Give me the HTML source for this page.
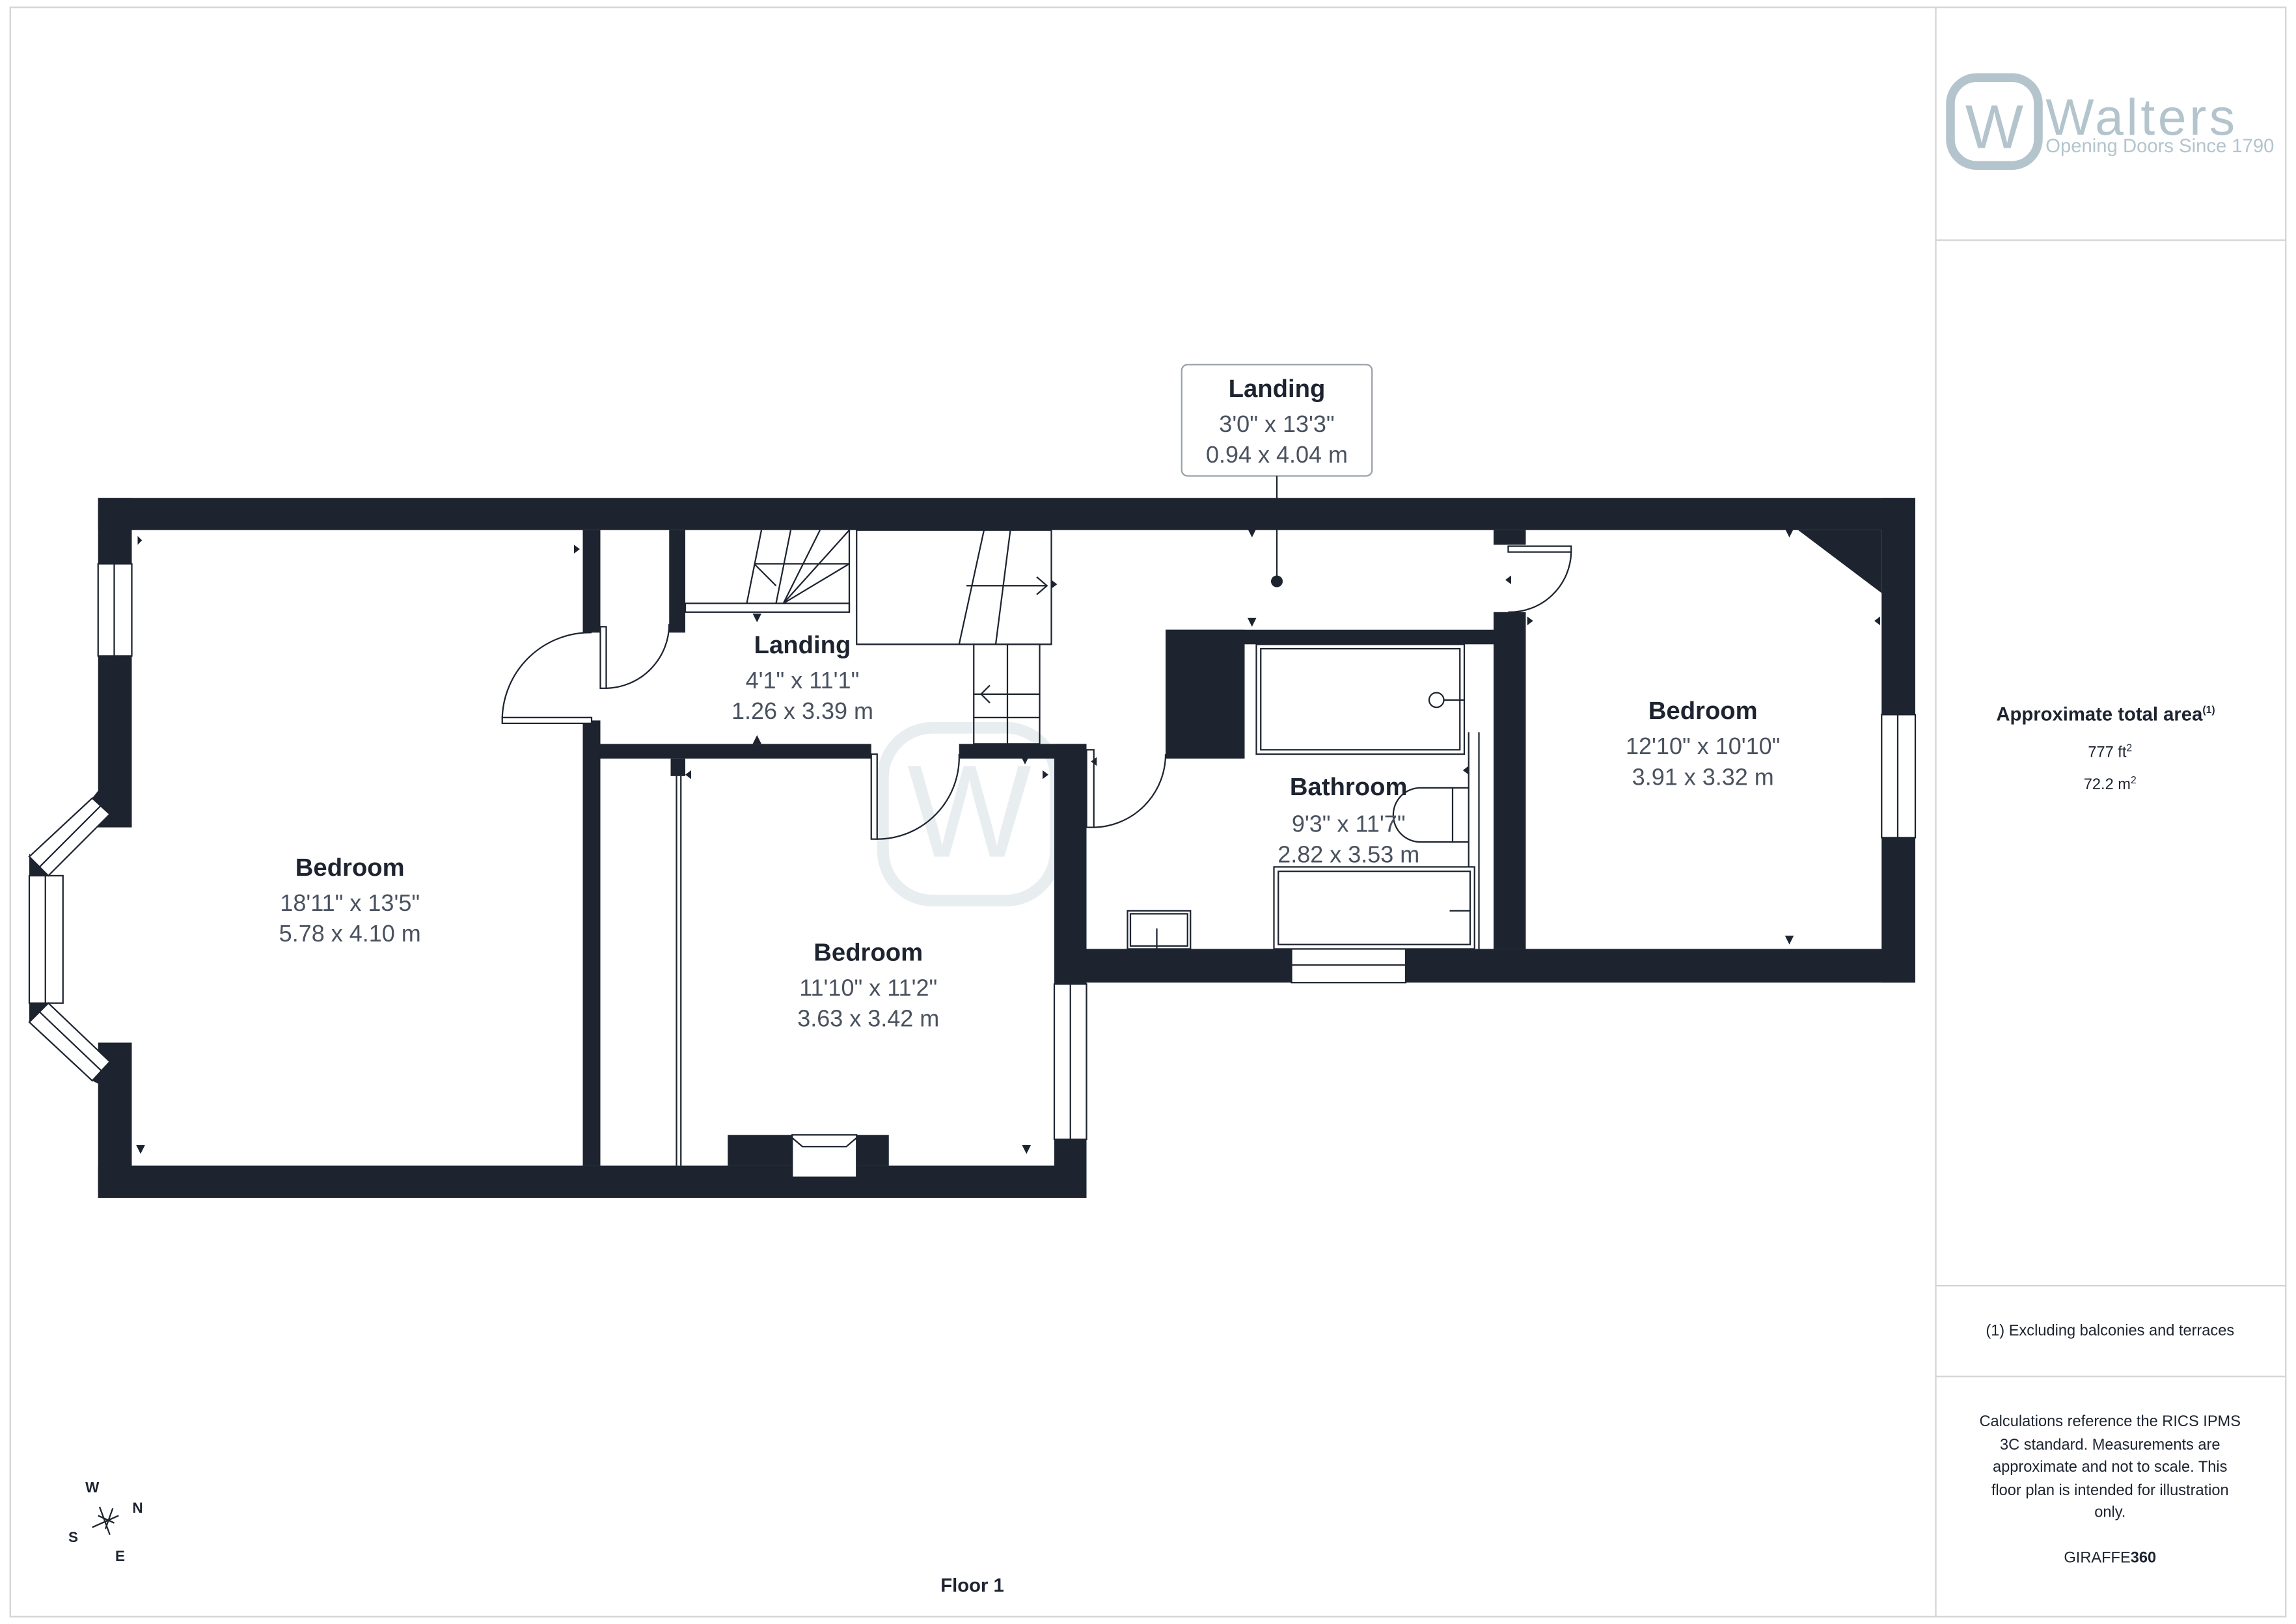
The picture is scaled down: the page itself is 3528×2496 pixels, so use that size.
<!DOCTYPE html>
<html><head><meta charset="utf-8"><style>
html,body{margin:0;padding:0;background:#fff}
svg{display:block}
text{font-family:"Liberation Sans",sans-serif}
.t{font-weight:bold;fill:#1d2430;font-size:17px;text-anchor:middle}
.d{fill:#4a5260;font-size:16px;text-anchor:middle}
.p{fill:#1d2430;font-size:10.5px;text-anchor:middle}
</style></head><body>
<svg width="3528" height="2496" viewBox="0 0 1568 1109" preserveAspectRatio="none" xmlns="http://www.w3.org/2000/svg">
<rect x="7" y="5" width="1554" height="1099" fill="none" stroke="#d4d4d4" stroke-width="1"/>
<line x1="1322" y1="5" x2="1322" y2="1104" stroke="#d4d4d4"/>
<line x1="1322" y1="164" x2="1561" y2="164" stroke="#d4d4d4"/>
<line x1="1322" y1="878" x2="1561" y2="878" stroke="#d4d4d4"/>
<line x1="1322" y1="940" x2="1561" y2="940" stroke="#d4d4d4"/>

<!-- logo -->
<rect x="1332" y="53" width="60" height="60" rx="18" fill="none" stroke="#b3c4cc" stroke-width="6"/>
<text x="1362" y="101" font-size="42" fill="#b3c4cc" text-anchor="middle">W</text>
<text x="1397" y="92" font-size="35" fill="#b3c4cc" letter-spacing="2">Walters</text>
<text x="1397" y="104" font-size="13" fill="#b3c4cc">Opening Doors Since 1790</text>

<!-- watermark -->
<rect x="603" y="497" width="118" height="118" rx="34" fill="none" stroke="#e8eef0" stroke-width="8"/>
<text x="662" y="585" font-size="90" fill="#e8eef0" text-anchor="middle">W</text>

<g fill="#1d2430">
<!-- outer walls -->
<rect x="67" y="340" width="1241" height="22"/>
<rect x="67" y="340" width="23" height="45"/>
<rect x="67" y="448" width="23" height="117"/>
<rect x="67" y="712" width="23" height="106"/>
<rect x="67" y="796" width="675" height="22"/>
<rect x="720" y="648" width="162" height="23"/>
<rect x="960" y="648" width="348" height="23"/>
<rect x="1285" y="340" width="23" height="148"/>
<rect x="1285" y="572" width="23" height="99"/>
<polygon points="1228,362 1285,362 1285,405"/>
<rect x="720" y="508" width="22" height="164"/>
<rect x="720" y="778" width="22" height="40"/>
<!-- bay wedges -->
<polygon points="67,540 90,540 90,565 75,556 63,545"/>
<polygon points="67,740 90,740 90,712 75,725 63,738"/>
<polygon points="20,583 33,598 20,598"/>
<polygon points="20,685 33,685 20,698"/>
<!-- interior walls -->
<rect x="398" y="362" width="12" height="70"/>
<rect x="398" y="492" width="12" height="304"/>
<rect x="457" y="362" width="11" height="70"/>
<rect x="410" y="508" width="185" height="10"/>
<rect x="655" y="508" width="87" height="10"/>
<rect x="458" y="518" width="10" height="12"/>
<rect x="796" y="430" width="224" height="10"/>
<rect x="796" y="430" width="54" height="88"/>
<rect x="1020" y="362" width="22" height="10"/>
<rect x="1020" y="418" width="22" height="230"/>
<rect x="497" y="775" width="110" height="21"/>
</g>
<g fill="#fff" stroke="#1d2430" stroke-width="1">
<!-- windows -->
<rect x="67" y="385" width="23" height="63"/>
<line x1="78" y1="385" x2="78" y2="448"/>
<rect x="1285" y="488" width="23" height="84"/>
<line x1="1296" y1="488" x2="1296" y2="572"/>
<rect x="720" y="672" width="22" height="106"/>
<line x1="731" y1="672" x2="731" y2="778"/>
<rect x="882" y="648" width="78" height="23"/>
<line x1="882" y1="659" x2="960" y2="659"/>
<rect x="20" y="598" width="23" height="87"/>
<line x1="31" y1="598" x2="31" y2="685"/>
<polygon points="63,545 75,556 33,598 20,585"/>
<line x1="69" y1="550" x2="27" y2="592"/>
<polygon points="63,738 75,725 33,685 20,698"/>
<line x1="69" y1="731" x2="27" y2="691"/>
<rect x="541" y="775" width="44" height="29"/>
</g>
<g fill="none" stroke="#1d2430" stroke-width="1">
<!-- doors -->
<rect x="343" y="490" width="61" height="4" fill="#fff"/>
<path d="M343,490 A60,60 0 0 1 404,432"/>
<rect x="410" y="428" width="4" height="42" fill="#fff"/>
<path d="M414,470 A44,44 0 0 0 457,426"/>
<rect x="595" y="515" width="4" height="58" fill="#fff"/>
<path d="M599,573 A56,56 0 0 0 655,515"/>
<rect x="742" y="512" width="5" height="53" fill="#fff"/>
<path d="M747,565 A50,50 0 0 0 796,515"/>
<rect x="1030" y="373" width="43" height="4" fill="#fff"/>
<path d="M1073,377 A42,42 0 0 1 1030,418"/>
<!-- stairs -->
<rect x="468" y="412" width="112" height="6"/>
<path d="M520,362 L510,412 M540,362 L530,412 M560,362 L535,412 M580,362 L535,412 M580,385 L535,412 M515,385 L580,385 M515,385 L530,400"/>
<line x1="580" y1="362" x2="580" y2="418"/>
<rect x="585" y="362" width="133" height="78"/>
<line x1="585" y1="440" x2="718" y2="440"/>
<path d="M672,362 L655,440 M690,362 L680,440 M660,400 L715,400 M708,394 L715,400 L708,406"/>
<rect x="665" y="440" width="45" height="68"/>
<line x1="688" y1="440" x2="688" y2="508"/>
<line x1="665" y1="474" x2="710" y2="474"/>
<line x1="665" y1="490" x2="710" y2="490"/>
<path d="M670,474 L676,468 M670,474 L676,480"/>
<!-- wardrobe -->
<line x1="462" y1="530" x2="462" y2="796"/>
<line x1="465" y1="530" x2="465" y2="796"/>
<!-- bathroom fixtures -->
<rect x="858" y="440" width="142" height="75" fill="#fff"/>
<rect x="861" y="443" width="136" height="69"/>
<circle cx="981" cy="478" r="5"/>
<line x1="986" y1="478" x2="1000" y2="478"/>
<line x1="1003" y1="500" x2="1003" y2="648"/>
<line x1="1010" y1="500" x2="1010" y2="648"/>
<rect x="870" y="592" width="137" height="56" fill="#fff"/>
<rect x="873" y="595" width="131" height="50"/>
<line x1="990" y1="622" x2="1004" y2="622"/>
<path d="M1003,538 L970,538 A18,18 0 0 0 970,575 L1003,575"/>
<line x1="992" y1="538" x2="992" y2="575"/>
<rect x="770" y="622" width="43" height="26" fill="#fff"/>
<rect x="772" y="624" width="39" height="22"/>
<line x1="790" y1="634" x2="790" y2="648"/>
<path d="M541,777 L548,783 L578,783 L585,777"/>
</g>
<!-- dim arrows -->
<g fill="#1d2430">
<path d="M94,366 l3,3 -3,3z M97,368 l-3,-3"/>
<path d="M392,372 l4,3 -4,3z"/>
<path d="M96,788 l3,-6 h-6z"/>
<path d="M701,788 l3,-6 h-6z"/>
<path d="M472,526 l-4,3 4,3z"/>
<path d="M700,522 l-3,-6 h6z"/>
<path d="M712,526 l4,3 -4,3z"/>
<path d="M855,367 l3,-6 h-6z"/>
<path d="M855,428 l3,-6 h-6z"/>
<path d="M722,399 l-4,-3 v6z"/>
<path d="M1028,396 l4,-3 v6z"/>
<path d="M1222,367 l3,-6 h-6z"/>
<path d="M1222,645 l3,-6 h-6z"/>
<path d="M1047,424 l-4,-3 v6z"/>
<path d="M1280,424 l4,-3 v6z"/>
<path d="M745,520 l4,-3 v6z"/>
<path d="M999,526 l4,-3 v6z"/>
<path d="M517,425 l3,-6 h-6z"/>
<path d="M517,502 l3,6 h-6z"/>
</g>

<!-- labels -->
<text class="t" x="239" y="598">Bedroom</text>
<text class="d" x="239" y="622">18'11" x 13'5"</text>
<text class="d" x="239" y="643">5.78 x 4.10 m</text>
<text class="t" x="548" y="446">Landing</text>
<text class="d" x="548" y="470">4'1" x 11'1"</text>
<text class="d" x="548" y="491">1.26 x 3.39 m</text>
<text class="t" x="593" y="656">Bedroom</text>
<text class="d" x="593" y="680">11'10" x 11'2"</text>
<text class="d" x="593" y="701">3.63 x 3.42 m</text>
<text class="t" x="921" y="543">Bathroom</text>
<text class="d" x="921" y="568">9'3" x 11'7"</text>
<text class="d" x="921" y="589">2.82 x 3.53 m</text>
<text class="t" x="1163" y="491">Bedroom</text>
<text class="d" x="1163" y="515">12'10" x 10'10"</text>
<text class="d" x="1163" y="536">3.91 x 3.32 m</text>

<rect x="807" y="249" width="130" height="76" rx="4" fill="#fff" stroke="#9aa0a6"/>
<text class="t" x="872" y="271">Landing</text>
<text class="d" x="872" y="295">3'0" x 13'3"</text>
<text class="d" x="872" y="316">0.94 x 4.04 m</text>
<line x1="872" y1="325" x2="872" y2="397" stroke="#1d2430"/>
<circle cx="872" cy="397" r="4" fill="#1d2430"/>

<!-- panel text -->
<text x="1438" y="492" font-size="13" font-weight="bold" fill="#1d2430" text-anchor="middle">Approximate total area<tspan font-size="7" dy="-5">(1)</tspan></text>
<text class="p" x="1441" y="517">777 ft<tspan font-size="7" dy="-4">2</tspan></text>
<text class="p" x="1441" y="539">72.2 m<tspan font-size="7" dy="-4">2</tspan></text>
<text class="p" x="1441" y="912">(1) Excluding balconies and terraces</text>
<text class="p" x="1441" y="974">Calculations reference the RICS IPMS</text>
<text class="p" x="1441" y="990">3C standard. Measurements are</text>
<text class="p" x="1441" y="1005">approximate and not to scale. This</text>
<text class="p" x="1441" y="1021">floor plan is intended for illustration</text>
<text class="p" x="1441" y="1036">only.</text>
<text class="p" x="1441" y="1067">GIRAFFE<tspan font-weight="bold">360</tspan></text>
<text x="664" y="1087" font-size="13" font-weight="bold" fill="#1d2430" text-anchor="middle">Floor 1</text>

<!-- compass -->
<g stroke="#1d2430" stroke-width="1">
<line x1="68" y1="1029" x2="75" y2="1048"/>
<line x1="63" y1="1043" x2="81" y2="1035"/>
<line x1="72" y1="1044" x2="77" y2="1030"/>
<line x1="67" y1="1035" x2="78" y2="1040"/>
</g>
<text x="63" y="1019" font-size="10" font-weight="bold" fill="#1d2430" text-anchor="middle">W</text>
<text x="94" y="1033" font-size="10" font-weight="bold" fill="#1d2430" text-anchor="middle">N</text>
<text x="50" y="1053" font-size="10" font-weight="bold" fill="#1d2430" text-anchor="middle">S</text>
<text x="82" y="1066" font-size="10" font-weight="bold" fill="#1d2430" text-anchor="middle">E</text>
</svg>
</body></html>
